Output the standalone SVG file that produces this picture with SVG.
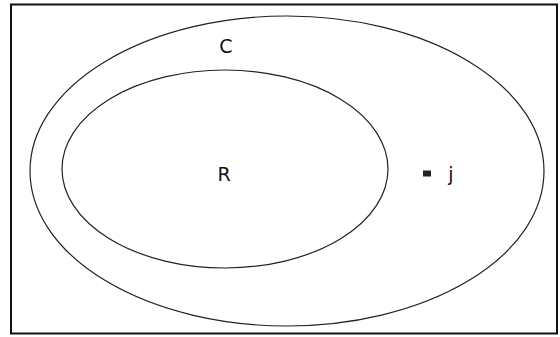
<svg xmlns="http://www.w3.org/2000/svg" width="560" height="337" viewBox="0 0 560 337">
<style>
.set{fill:none;stroke:#222;stroke-width:1.2}
.lbl{font-family:"DejaVu Sans",sans-serif;font-size:19px;fill:#111}
</style>
<rect x="0" y="0" width="560" height="337" fill="#fff"/>
<rect x="11" y="4.5" width="546" height="329" fill="none" stroke="#111" stroke-width="2"/>
<g id="C">
<ellipse class="set" cx="287" cy="171" rx="257" ry="155"/>
<text class="lbl" x="226" y="53" text-anchor="middle">C</text>
</g>
<g id="R">
<ellipse class="set" cx="225" cy="169" rx="163" ry="99"/>
<text class="lbl" x="224" y="181" text-anchor="middle">R</text>
</g>
<g id="j">
<rect x="423" y="170.5" width="8" height="6" fill="#222"/>
<text class="lbl" x="451" y="181" text-anchor="middle">j</text>
</g>
<g id="connectors"></g>
</svg>
